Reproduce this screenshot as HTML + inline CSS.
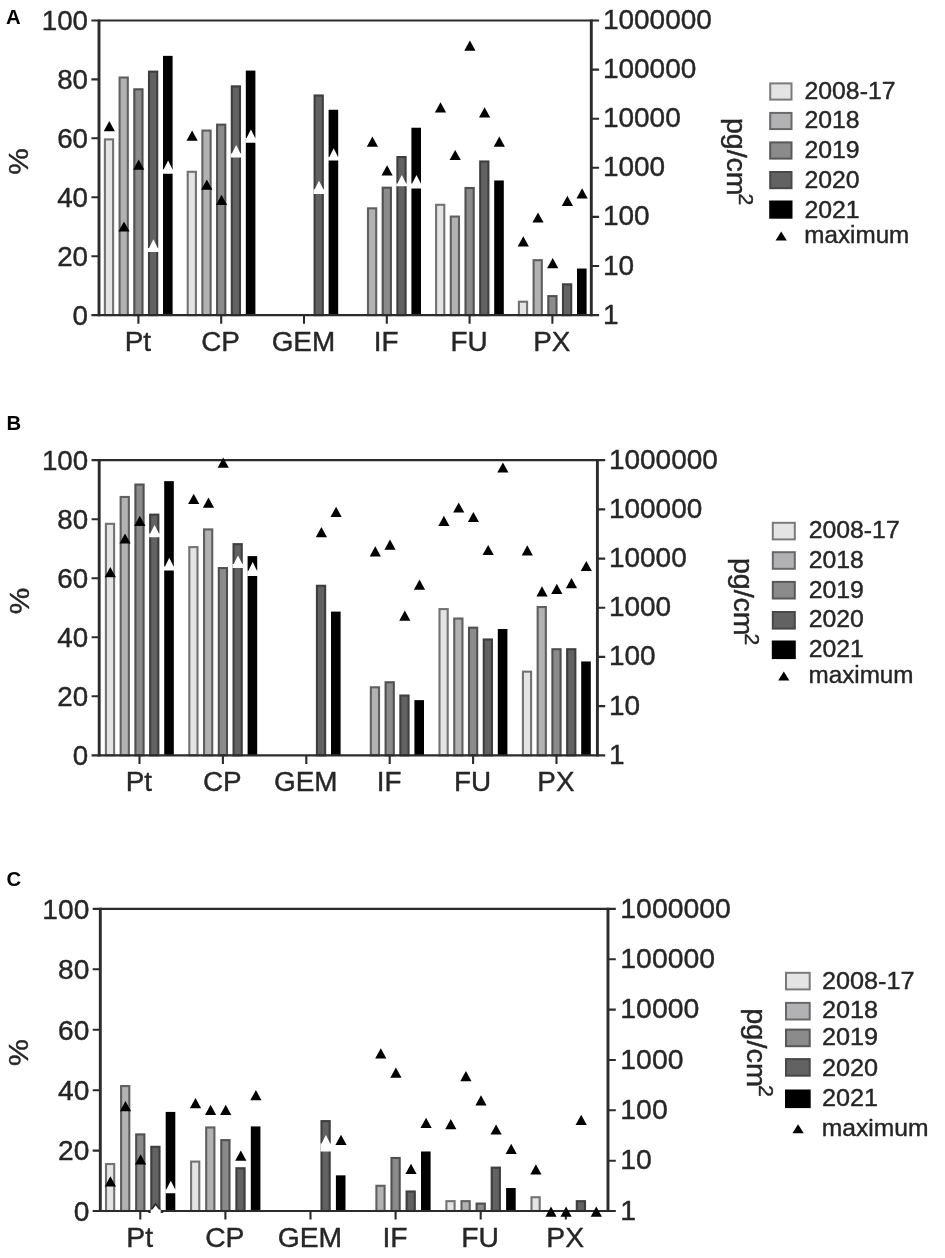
<!DOCTYPE html>
<html lang="en">
<head>
<meta charset="utf-8">
<title>Figure</title>
<style>
html,body{margin:0;padding:0;background:#fff;}
body{width:945px;height:1258px;overflow:hidden;}
svg{display:block;font-family:"Liberation Sans", Arial, sans-serif;fill:#262626;filter:blur(0.65px);}
text{stroke:#262626;stroke-width:0.4px;stroke-linejoin:round;}
text.pl{stroke:none;}
</style>
</head>
<body>
<svg width="945" height="1258" viewBox="0 0 945 1258">
<rect width="945" height="1258" fill="#fff"/>
<g class="panel" id="panelA">
<rect x="104.90" y="139.39" width="8.20" height="175.71" fill="#e4e4e4" stroke="#727272" stroke-width="2.1"/>
<rect x="119.60" y="77.52" width="8.20" height="237.58" fill="#b2b2b4" stroke="#606060" stroke-width="2.1"/>
<rect x="134.30" y="89.31" width="8.20" height="225.79" fill="#8b8b8b" stroke="#505050" stroke-width="2.1"/>
<rect x="149.00" y="71.63" width="8.20" height="243.47" fill="#626262" stroke="#3e3e3e" stroke-width="2.1"/>
<rect x="163.00" y="55.85" width="9.6" height="259.25" fill="#000"/>
<rect x="187.70" y="171.80" width="8.20" height="143.30" fill="#e4e4e4" stroke="#727272" stroke-width="2.1"/>
<rect x="202.40" y="130.55" width="8.20" height="184.55" fill="#b2b2b4" stroke="#606060" stroke-width="2.1"/>
<rect x="217.10" y="124.66" width="8.20" height="190.44" fill="#8b8b8b" stroke="#505050" stroke-width="2.1"/>
<rect x="231.80" y="86.36" width="8.20" height="228.74" fill="#626262" stroke="#3e3e3e" stroke-width="2.1"/>
<rect x="245.80" y="70.58" width="9.6" height="244.52" fill="#000"/>
<rect x="314.60" y="95.49" width="8.20" height="219.61" fill="#626262" stroke="#3e3e3e" stroke-width="2.1"/>
<rect x="328.60" y="109.76" width="9.6" height="205.34" fill="#000"/>
<rect x="368.00" y="208.33" width="8.20" height="106.77" fill="#b2b2b4" stroke="#606060" stroke-width="2.1"/>
<rect x="382.70" y="187.70" width="8.20" height="127.40" fill="#8b8b8b" stroke="#505050" stroke-width="2.1"/>
<rect x="397.40" y="157.07" width="8.20" height="158.03" fill="#626262" stroke="#3e3e3e" stroke-width="2.1"/>
<rect x="411.40" y="127.73" width="9.6" height="187.37" fill="#000"/>
<rect x="436.10" y="204.79" width="8.20" height="110.31" fill="#e4e4e4" stroke="#727272" stroke-width="2.1"/>
<rect x="450.80" y="216.58" width="8.20" height="98.52" fill="#b2b2b4" stroke="#606060" stroke-width="2.1"/>
<rect x="465.50" y="188.00" width="8.20" height="127.10" fill="#8b8b8b" stroke="#505050" stroke-width="2.1"/>
<rect x="480.20" y="161.49" width="8.20" height="153.62" fill="#626262" stroke="#3e3e3e" stroke-width="2.1"/>
<rect x="494.20" y="180.47" width="9.6" height="134.63" fill="#000"/>
<rect x="518.90" y="301.71" width="8.20" height="13.39" fill="#e4e4e4" stroke="#727272" stroke-width="2.1"/>
<rect x="533.60" y="260.18" width="8.20" height="54.92" fill="#b2b2b4" stroke="#606060" stroke-width="2.1"/>
<rect x="548.30" y="296.12" width="8.20" height="18.98" fill="#8b8b8b" stroke="#505050" stroke-width="2.1"/>
<rect x="563.00" y="284.33" width="8.20" height="30.77" fill="#626262" stroke="#3e3e3e" stroke-width="2.1"/>
<rect x="577.00" y="268.55" width="9.6" height="46.55" fill="#000"/>
<path d="M91.4 20.5H599.1M91.4 315.1H599.1" stroke="#2b2b2b" stroke-width="2.2" fill="none"/>
<path d="M99.0 19.4V316.2M591.3 19.4V316.2" stroke="#2b2b2b" stroke-width="2.9" fill="none"/>
<text transform="translate(88.0 324.7) scale(1.035 1)" font-size="26.8" text-anchor="end">0</text>
<text transform="translate(88.0 265.8) scale(1.035 1)" font-size="26.8" text-anchor="end">20</text>
<text transform="translate(88.0 206.9) scale(1.035 1)" font-size="26.8" text-anchor="end">40</text>
<text transform="translate(88.0 147.9) scale(1.035 1)" font-size="26.8" text-anchor="end">60</text>
<text transform="translate(88.0 89.0) scale(1.035 1)" font-size="26.8" text-anchor="end">80</text>
<text transform="translate(88.0 30.1) scale(1.035 1)" font-size="26.8" text-anchor="end">100</text>
<text transform="translate(602.9 323.6) scale(1.045 1)" font-size="26.8" text-anchor="start">1</text>
<text transform="translate(602.9 274.5) scale(1.045 1)" font-size="26.8" text-anchor="start">10</text>
<text transform="translate(602.9 225.4) scale(1.045 1)" font-size="26.8" text-anchor="start">100</text>
<text transform="translate(602.9 176.3) scale(1.045 1)" font-size="26.8" text-anchor="start">1000</text>
<text transform="translate(602.9 127.2) scale(1.045 1)" font-size="26.8" text-anchor="start">10000</text>
<text transform="translate(602.9 78.1) scale(1.045 1)" font-size="26.8" text-anchor="start">100000</text>
<text transform="translate(602.9 29.0) scale(1.045 1)" font-size="26.8" text-anchor="start">1000000</text>
<text transform="translate(137.8 350.6) scale(1.04 1)" font-size="26.8" text-anchor="middle">Pt</text>
<text transform="translate(220.6 350.6) scale(1.04 1)" font-size="26.8" text-anchor="middle">CP</text>
<text transform="translate(303.4 350.6) scale(1.04 1)" font-size="26.8" text-anchor="middle">GEM</text>
<text transform="translate(386.2 350.6) scale(1.04 1)" font-size="26.8" text-anchor="middle">IF</text>
<text transform="translate(469.0 350.6) scale(1.04 1)" font-size="26.8" text-anchor="middle">FU</text>
<text transform="translate(551.8 350.6) scale(1.04 1)" font-size="26.8" text-anchor="middle">PX</text>
<path d="M91.4 256.2H99.0M91.4 197.3H99.0M91.4 138.3H99.0M91.4 79.4H99.0M591.3 266.0H599.1M591.3 216.9H599.1M591.3 167.8H599.1M591.3 118.7H599.1M591.3 69.6H599.1M138.4 315.1V323.7M221.2 315.1V323.7M304.0 315.1V323.7M386.8 315.1V323.7M469.6 315.1V323.7M552.4 315.1V323.7" stroke="#2b2b2b" stroke-width="2.1" fill="none"/>
<path d="M109.3 121.0L114.9 131.2H103.7Z" fill="#000"/>
<path d="M124.0 221.4L129.6 231.6H118.4Z" fill="#000"/>
<path d="M138.7 159.5L144.3 169.7H133.1Z" fill="#000"/>
<path d="M153.4 239.3L157.7 247.9H158.8V252.0H148.0V247.9H149.1Z" fill="#fff"/>
<path d="M168.1 160.6L172.4 169.2H173.6V173.8H162.7V169.2H163.8Z" fill="#fff"/>
<path d="M192.1 130.6L197.7 140.8H186.5Z" fill="#000"/>
<path d="M206.8 179.5L212.4 189.7H201.2Z" fill="#000"/>
<path d="M221.5 194.8L227.1 205.0H215.9Z" fill="#000"/>
<path d="M236.2 145.0L240.5 153.6H241.6V157.6H230.8V153.6H231.9Z" fill="#fff"/>
<path d="M250.9 129.4L255.2 138.0H256.4V142.8H245.5V138.0H246.6Z" fill="#fff"/>
<path d="M319.0 180.7L323.3 189.3H324.4V193.9H313.6V189.3H314.7Z" fill="#fff"/>
<path d="M333.7 148.3L338.0 156.9H339.1V160.6H328.2V156.9H329.4Z" fill="#fff"/>
<path d="M372.4 136.6L378.0 146.8H366.8Z" fill="#000"/>
<path d="M387.1 165.2L392.7 175.4H381.5Z" fill="#000"/>
<path d="M401.8 175.0L406.1 183.6H407.2V186.3H396.3V183.6H397.5Z" fill="#fff"/>
<path d="M416.5 175.0L420.8 183.6H421.9V188.6H411.0V183.6H412.2Z" fill="#fff"/>
<path d="M440.5 102.3L446.1 112.5H434.9Z" fill="#000"/>
<path d="M455.2 149.9L460.8 160.1H449.6Z" fill="#000"/>
<path d="M469.9 40.6L475.5 50.8H464.3Z" fill="#000"/>
<path d="M484.6 107.2L490.2 117.4H479.0Z" fill="#000"/>
<path d="M499.3 136.6L504.9 146.8H493.7Z" fill="#000"/>
<path d="M523.3 236.2L528.9 246.4H517.7Z" fill="#000"/>
<path d="M538.0 212.4L543.6 222.6H532.4Z" fill="#000"/>
<path d="M552.7 258.1L558.3 268.3H547.1Z" fill="#000"/>
<path d="M567.4 195.8L573.0 206.0H561.8Z" fill="#000"/>
<path d="M582.1 188.2L587.7 198.4H576.5Z" fill="#000"/>
<text x="6" y="24.2" class="pl" font-size="20.3" font-weight="bold" fill="#000">A</text>
<text transform="translate(28.4 161.5) rotate(-90) scale(1.065 1)" font-size="28.0" text-anchor="middle">%</text>
<text transform="translate(727.2 117.9) rotate(90) scale(1.065 1)" font-size="26.8">pg/cm<tspan font-size="19.8" dx="-1.9" dy="-11.5">2</tspan></text>
<rect x="770.2" y="83.4" width="21.3" height="16.2" fill="#e4e4e4" stroke="#7a7a7a" stroke-width="2"/>
<text transform="translate(804.5 99.3) scale(1.065 1)" font-size="23.3" text-anchor="start">2008-17</text>
<rect x="770.2" y="112.9" width="21.3" height="16.2" fill="#b2b2b4" stroke="#686868" stroke-width="2"/>
<text transform="translate(804.5 128.4) scale(1.065 1)" font-size="23.3" text-anchor="start">2018</text>
<rect x="770.2" y="142.4" width="21.3" height="16.2" fill="#8b8b8b" stroke="#585858" stroke-width="2"/>
<text transform="translate(804.5 158.0) scale(1.065 1)" font-size="23.3" text-anchor="start">2019</text>
<rect x="770.2" y="172.0" width="21.3" height="16.2" fill="#626262" stroke="#484848" stroke-width="2"/>
<text transform="translate(804.5 187.7) scale(1.065 1)" font-size="23.3" text-anchor="start">2020</text>
<rect x="770.2" y="201.5" width="21.3" height="16.2" fill="#000000" stroke="#000000" stroke-width="2"/>
<text transform="translate(804.5 217.6) scale(1.065 1)" font-size="23.3" text-anchor="start">2021</text>
<text transform="translate(804.3 243.2) scale(1.04 1)" font-size="23.3" text-anchor="start">maximum</text>
<path d="M781.2 231.6L786.8 240.6H775.6Z" fill="#000"/>
</g>
<g class="panel" id="panelB">
<rect x="105.90" y="523.81" width="8.20" height="231.49" fill="#e4e4e4" stroke="#727272" stroke-width="2.1"/>
<rect x="120.65" y="496.96" width="8.20" height="258.34" fill="#b2b2b4" stroke="#606060" stroke-width="2.1"/>
<rect x="135.40" y="484.56" width="8.20" height="270.74" fill="#8b8b8b" stroke="#505050" stroke-width="2.1"/>
<rect x="150.15" y="514.66" width="8.20" height="240.64" fill="#626262" stroke="#3e3e3e" stroke-width="2.1"/>
<rect x="164.20" y="481.15" width="9.6" height="274.15" fill="#000"/>
<rect x="189.30" y="547.12" width="8.20" height="208.18" fill="#e4e4e4" stroke="#727272" stroke-width="2.1"/>
<rect x="204.05" y="529.42" width="8.20" height="225.88" fill="#b2b2b4" stroke="#606060" stroke-width="2.1"/>
<rect x="218.80" y="568.08" width="8.20" height="187.22" fill="#8b8b8b" stroke="#505050" stroke-width="2.1"/>
<rect x="233.55" y="544.17" width="8.20" height="211.13" fill="#626262" stroke="#3e3e3e" stroke-width="2.1"/>
<rect x="247.60" y="556.11" width="9.6" height="199.19" fill="#000"/>
<rect x="316.95" y="585.78" width="8.20" height="169.52" fill="#626262" stroke="#3e3e3e" stroke-width="2.1"/>
<rect x="331.00" y="611.59" width="9.6" height="143.71" fill="#000"/>
<rect x="370.85" y="687.30" width="8.20" height="68.00" fill="#b2b2b4" stroke="#606060" stroke-width="2.1"/>
<rect x="385.60" y="682.28" width="8.20" height="73.02" fill="#8b8b8b" stroke="#505050" stroke-width="2.1"/>
<rect x="400.35" y="695.56" width="8.20" height="59.74" fill="#626262" stroke="#3e3e3e" stroke-width="2.1"/>
<rect x="414.40" y="700.12" width="9.6" height="55.18" fill="#000"/>
<rect x="439.50" y="609.10" width="8.20" height="146.20" fill="#e4e4e4" stroke="#727272" stroke-width="2.1"/>
<rect x="454.25" y="618.54" width="8.20" height="136.76" fill="#b2b2b4" stroke="#606060" stroke-width="2.1"/>
<rect x="469.00" y="627.69" width="8.20" height="127.61" fill="#8b8b8b" stroke="#505050" stroke-width="2.1"/>
<rect x="483.75" y="639.49" width="8.20" height="115.81" fill="#626262" stroke="#3e3e3e" stroke-width="2.1"/>
<rect x="497.80" y="629.00" width="9.6" height="126.30" fill="#000"/>
<rect x="522.90" y="671.66" width="8.20" height="83.64" fill="#e4e4e4" stroke="#727272" stroke-width="2.1"/>
<rect x="537.65" y="607.03" width="8.20" height="148.27" fill="#b2b2b4" stroke="#606060" stroke-width="2.1"/>
<rect x="552.40" y="649.23" width="8.20" height="106.07" fill="#8b8b8b" stroke="#505050" stroke-width="2.1"/>
<rect x="567.15" y="649.23" width="8.20" height="106.07" fill="#626262" stroke="#3e3e3e" stroke-width="2.1"/>
<rect x="581.20" y="661.46" width="9.6" height="93.84" fill="#000"/>
<path d="M91.6 460.2H605.2M91.6 755.3H605.2" stroke="#2b2b2b" stroke-width="2.2" fill="none"/>
<path d="M99.2 459.1V756.4M597.4 459.1V756.4" stroke="#2b2b2b" stroke-width="2.9" fill="none"/>
<text transform="translate(88.2 764.9) scale(1.035 1)" font-size="26.8" text-anchor="end">0</text>
<text transform="translate(88.2 705.9) scale(1.035 1)" font-size="26.8" text-anchor="end">20</text>
<text transform="translate(88.2 646.9) scale(1.035 1)" font-size="26.8" text-anchor="end">40</text>
<text transform="translate(88.2 587.8) scale(1.035 1)" font-size="26.8" text-anchor="end">60</text>
<text transform="translate(88.2 528.8) scale(1.035 1)" font-size="26.8" text-anchor="end">80</text>
<text transform="translate(88.2 469.8) scale(1.035 1)" font-size="26.8" text-anchor="end">100</text>
<text transform="translate(608.9 763.8) scale(1.045 1)" font-size="26.8" text-anchor="start">1</text>
<text transform="translate(608.9 714.6) scale(1.045 1)" font-size="26.8" text-anchor="start">10</text>
<text transform="translate(608.9 665.4) scale(1.045 1)" font-size="26.8" text-anchor="start">100</text>
<text transform="translate(608.9 616.2) scale(1.045 1)" font-size="26.8" text-anchor="start">1000</text>
<text transform="translate(608.9 567.1) scale(1.045 1)" font-size="26.8" text-anchor="start">10000</text>
<text transform="translate(608.9 517.9) scale(1.045 1)" font-size="26.8" text-anchor="start">100000</text>
<text transform="translate(608.9 468.7) scale(1.045 1)" font-size="26.8" text-anchor="start">1000000</text>
<text transform="translate(138.9 790.8) scale(1.04 1)" font-size="26.8" text-anchor="middle">Pt</text>
<text transform="translate(222.3 790.8) scale(1.04 1)" font-size="26.8" text-anchor="middle">CP</text>
<text transform="translate(305.7 790.8) scale(1.04 1)" font-size="26.8" text-anchor="middle">GEM</text>
<text transform="translate(389.1 790.8) scale(1.04 1)" font-size="26.8" text-anchor="middle">IF</text>
<text transform="translate(472.5 790.8) scale(1.04 1)" font-size="26.8" text-anchor="middle">FU</text>
<text transform="translate(555.9 790.8) scale(1.04 1)" font-size="26.8" text-anchor="middle">PX</text>
<path d="M91.6 696.3H99.2M91.6 637.3H99.2M91.6 578.2H99.2M91.6 519.2H99.2M597.4 706.1H605.2M597.4 656.9H605.2M597.4 607.8H605.2M597.4 558.6H605.2M597.4 509.4H605.2M139.5 755.3V763.9M222.9 755.3V763.9M306.3 755.3V763.9M389.7 755.3V763.9M473.1 755.3V763.9M556.5 755.3V763.9" stroke="#2b2b2b" stroke-width="2.1" fill="none"/>
<path d="M110.3 567.1L115.9 577.3H104.7Z" fill="#000"/>
<path d="M125.0 533.4L130.7 543.6H119.5Z" fill="#000"/>
<path d="M139.8 515.7L145.4 525.9H134.2Z" fill="#000"/>
<path d="M154.6 525.0L158.9 533.6H160.0V537.2H149.1V533.6H150.2Z" fill="#fff"/>
<path d="M169.3 557.8L173.6 566.4H174.8V570.4H163.9V566.4H165.0Z" fill="#fff"/>
<path d="M193.7 493.8L199.3 504.0H188.1Z" fill="#000"/>
<path d="M208.5 497.6L214.1 507.8H202.9Z" fill="#000"/>
<path d="M223.2 457.6L228.8 467.8H217.6Z" fill="#000"/>
<path d="M238.0 555.5L242.3 564.1H243.4V568.1H232.5V564.1H233.7Z" fill="#fff"/>
<path d="M252.7 562.1L257.0 570.7H258.2V576.1H247.3V570.7H248.4Z" fill="#fff"/>
<path d="M321.4 527.1L327.0 537.3H315.8Z" fill="#000"/>
<path d="M336.1 506.8L341.7 517.0H330.5Z" fill="#000"/>
<path d="M375.3 546.2L380.9 556.4H369.7Z" fill="#000"/>
<path d="M390.0 539.5L395.6 549.7H384.4Z" fill="#000"/>
<path d="M404.8 610.5L410.4 620.7H399.2Z" fill="#000"/>
<path d="M419.5 579.5L425.1 589.7H413.9Z" fill="#000"/>
<path d="M443.9 515.7L449.5 525.9H438.3Z" fill="#000"/>
<path d="M458.7 502.4L464.3 512.6H453.1Z" fill="#000"/>
<path d="M473.4 511.9L479.0 522.1H467.8Z" fill="#000"/>
<path d="M488.2 544.9L493.8 555.1H482.6Z" fill="#000"/>
<path d="M502.9 462.4L508.5 472.6H497.3Z" fill="#000"/>
<path d="M527.3 545.2L532.9 555.4H521.7Z" fill="#000"/>
<path d="M542.0 586.2L547.6 596.4H536.4Z" fill="#000"/>
<path d="M556.8 583.7L562.4 593.9H551.2Z" fill="#000"/>
<path d="M571.5 578.0L577.1 588.2H565.9Z" fill="#000"/>
<path d="M586.3 560.9L591.9 571.1H580.7Z" fill="#000"/>
<text x="6.5" y="430" class="pl" font-size="20.3" font-weight="bold" fill="#000">B</text>
<text transform="translate(29.0 601.0) rotate(-90) scale(1.065 1)" font-size="28.0" text-anchor="middle">%</text>
<text transform="translate(733.6 557.9) rotate(90) scale(1.065 1)" font-size="26.8">pg/cm<tspan font-size="19.8" dx="-1.9" dy="-11.5">2</tspan></text>
<rect x="772.8" y="522.8" width="22.0" height="16.6" fill="#e4e4e4" stroke="#7a7a7a" stroke-width="2"/>
<text transform="translate(808.7 538.2) scale(1.065 1)" font-size="23.3" text-anchor="start">2008-17</text>
<rect x="772.8" y="552.2" width="22.0" height="16.6" fill="#b2b2b4" stroke="#686868" stroke-width="2"/>
<text transform="translate(808.7 567.5) scale(1.065 1)" font-size="23.3" text-anchor="start">2018</text>
<rect x="772.8" y="581.9" width="22.0" height="16.6" fill="#8b8b8b" stroke="#585858" stroke-width="2"/>
<text transform="translate(808.7 597.6) scale(1.065 1)" font-size="23.3" text-anchor="start">2019</text>
<rect x="772.8" y="612.0" width="22.0" height="16.6" fill="#626262" stroke="#484848" stroke-width="2"/>
<text transform="translate(808.7 627.1) scale(1.065 1)" font-size="23.3" text-anchor="start">2020</text>
<rect x="772.8" y="641.5" width="22.0" height="16.6" fill="#000000" stroke="#000000" stroke-width="2"/>
<text transform="translate(808.7 657.4) scale(1.065 1)" font-size="23.3" text-anchor="start">2021</text>
<text transform="translate(808.5 683.2) scale(1.04 1)" font-size="23.3" text-anchor="start">maximum</text>
<path d="M783.8 671.6L789.4 680.6H778.2Z" fill="#000"/>
</g>
<g class="panel" id="panelC">
<rect x="106.00" y="1164.02" width="8.20" height="46.98" fill="#e4e4e4" stroke="#727272" stroke-width="2.1"/>
<rect x="121.10" y="1086.07" width="8.20" height="124.93" fill="#b2b2b4" stroke="#606060" stroke-width="2.1"/>
<rect x="136.20" y="1134.41" width="8.20" height="76.59" fill="#8b8b8b" stroke="#505050" stroke-width="2.1"/>
<rect x="151.30" y="1146.80" width="8.20" height="64.20" fill="#626262" stroke="#3e3e3e" stroke-width="2.1"/>
<rect x="165.70" y="1111.91" width="9.6" height="99.09" fill="#000"/>
<rect x="191.10" y="1161.60" width="8.20" height="49.40" fill="#e4e4e4" stroke="#727272" stroke-width="2.1"/>
<rect x="206.20" y="1127.46" width="8.20" height="83.54" fill="#b2b2b4" stroke="#606060" stroke-width="2.1"/>
<rect x="221.30" y="1140.15" width="8.20" height="70.85" fill="#8b8b8b" stroke="#505050" stroke-width="2.1"/>
<rect x="236.40" y="1168.25" width="8.20" height="42.75" fill="#626262" stroke="#3e3e3e" stroke-width="2.1"/>
<rect x="250.80" y="1126.41" width="9.6" height="84.59" fill="#000"/>
<rect x="321.50" y="1121.12" width="8.20" height="89.88" fill="#626262" stroke="#3e3e3e" stroke-width="2.1"/>
<rect x="335.90" y="1175.35" width="9.6" height="35.65" fill="#000"/>
<rect x="376.40" y="1185.77" width="8.20" height="25.23" fill="#b2b2b4" stroke="#606060" stroke-width="2.1"/>
<rect x="391.50" y="1157.97" width="8.20" height="53.03" fill="#8b8b8b" stroke="#505050" stroke-width="2.1"/>
<rect x="406.60" y="1191.51" width="8.20" height="19.49" fill="#626262" stroke="#3e3e3e" stroke-width="2.1"/>
<rect x="421.00" y="1151.49" width="9.6" height="59.51" fill="#000"/>
<rect x="446.40" y="1201.17" width="8.20" height="9.83" fill="#e4e4e4" stroke="#727272" stroke-width="2.1"/>
<rect x="461.50" y="1201.17" width="8.20" height="9.83" fill="#b2b2b4" stroke="#606060" stroke-width="2.1"/>
<rect x="476.60" y="1203.59" width="8.20" height="7.41" fill="#8b8b8b" stroke="#505050" stroke-width="2.1"/>
<rect x="491.70" y="1167.64" width="8.20" height="43.36" fill="#626262" stroke="#3e3e3e" stroke-width="2.1"/>
<rect x="506.10" y="1188.04" width="9.6" height="22.96" fill="#000"/>
<rect x="531.50" y="1197.25" width="8.20" height="13.75" fill="#e4e4e4" stroke="#727272" stroke-width="2.1"/>
<rect x="576.80" y="1201.17" width="8.20" height="9.83" fill="#626262" stroke="#3e3e3e" stroke-width="2.1"/>
<path d="M92.7 908.9H615.8M92.7 1211.0H615.8" stroke="#2b2b2b" stroke-width="2.2" fill="none"/>
<path d="M100.3 907.8V1212.1M608.0 907.8V1212.1" stroke="#2b2b2b" stroke-width="2.9" fill="none"/>
<text transform="translate(89.3 1220.7) scale(1.035 1)" font-size="27.2" text-anchor="end">0</text>
<text transform="translate(89.3 1160.3) scale(1.035 1)" font-size="27.2" text-anchor="end">20</text>
<text transform="translate(89.3 1099.9) scale(1.035 1)" font-size="27.2" text-anchor="end">40</text>
<text transform="translate(89.3 1039.5) scale(1.035 1)" font-size="27.2" text-anchor="end">60</text>
<text transform="translate(89.3 979.1) scale(1.035 1)" font-size="27.2" text-anchor="end">80</text>
<text transform="translate(89.3 918.6) scale(1.035 1)" font-size="27.2" text-anchor="end">100</text>
<text transform="translate(620.3 1219.6) scale(1.045 1)" font-size="27.2" text-anchor="start">1</text>
<text transform="translate(620.3 1169.3) scale(1.045 1)" font-size="27.2" text-anchor="start">10</text>
<text transform="translate(620.3 1118.9) scale(1.045 1)" font-size="27.2" text-anchor="start">100</text>
<text transform="translate(620.3 1068.6) scale(1.045 1)" font-size="27.2" text-anchor="start">1000</text>
<text transform="translate(620.3 1018.2) scale(1.045 1)" font-size="27.2" text-anchor="start">10000</text>
<text transform="translate(620.3 967.9) scale(1.045 1)" font-size="27.2" text-anchor="start">100000</text>
<text transform="translate(620.3 917.5) scale(1.045 1)" font-size="27.2" text-anchor="start">1000000</text>
<text transform="translate(139.7 1247.3) scale(1.04 1)" font-size="27.2" text-anchor="middle">Pt</text>
<text transform="translate(224.8 1247.3) scale(1.04 1)" font-size="27.2" text-anchor="middle">CP</text>
<text transform="translate(309.9 1247.3) scale(1.04 1)" font-size="27.2" text-anchor="middle">GEM</text>
<text transform="translate(395.0 1247.3) scale(1.04 1)" font-size="27.2" text-anchor="middle">IF</text>
<text transform="translate(480.1 1247.3) scale(1.04 1)" font-size="27.2" text-anchor="middle">FU</text>
<text transform="translate(565.2 1247.3) scale(1.04 1)" font-size="27.2" text-anchor="middle">PX</text>
<path d="M92.7 1150.6H100.3M92.7 1090.2H100.3M92.7 1029.7H100.3M92.7 969.3H100.3M608.0 1160.7H615.8M608.0 1110.3H615.8M608.0 1060.0H615.8M608.0 1009.6H615.8M608.0 959.2H615.8M140.3 1211.0V1219.6M225.4 1211.0V1219.6M310.5 1211.0V1219.6M395.6 1211.0V1219.6M480.7 1211.0V1219.6M565.8 1211.0V1219.6" stroke="#2b2b2b" stroke-width="2.1" fill="none"/>
<path d="M110.4 1176.2L116.0 1186.4H104.8Z" fill="#000"/>
<path d="M125.5 1101.0L131.1 1111.2H119.9Z" fill="#000"/>
<path d="M140.6 1154.3L146.2 1164.5H135.0Z" fill="#000"/>
<path d="M149.5 1212.2L155.7 1203.9L161.9 1212.2Z" fill="#fff" stroke="#2b2b2b" stroke-width="1.6" stroke-linejoin="miter"/>
<rect x="150.7" y="1209.6" width="10.0" height="3.4" fill="#fff"/>
<path d="M170.8 1180.7L175.1 1189.3H176.2V1193.3H165.4V1189.3H166.5Z" fill="#fff"/>
<path d="M195.5 1098.1L201.1 1108.3H189.9Z" fill="#000"/>
<path d="M210.6 1104.8L216.2 1115.0H205.0Z" fill="#000"/>
<path d="M225.7 1104.8L231.3 1115.0H220.1Z" fill="#000"/>
<path d="M240.8 1150.5L246.4 1160.7H235.2Z" fill="#000"/>
<path d="M255.9 1090.1L261.5 1100.3H250.3Z" fill="#000"/>
<path d="M325.9 1135.0L330.2 1143.6H331.4V1151.4H320.5V1143.6H321.6Z" fill="#fff"/>
<path d="M341.0 1134.7L346.6 1144.9H335.4Z" fill="#000"/>
<path d="M380.8 1048.2L386.4 1058.4H375.2Z" fill="#000"/>
<path d="M395.9 1067.6L401.5 1077.8H390.3Z" fill="#000"/>
<path d="M411.0 1163.8L416.6 1174.0H405.4Z" fill="#000"/>
<path d="M426.1 1117.7L431.7 1127.9H420.5Z" fill="#000"/>
<path d="M450.8 1119.0L456.4 1129.2H445.2Z" fill="#000"/>
<path d="M465.9 1071.0L471.5 1081.2H460.3Z" fill="#000"/>
<path d="M481.0 1095.2L486.6 1105.4H475.4Z" fill="#000"/>
<path d="M496.1 1124.4L501.7 1134.6H490.5Z" fill="#000"/>
<path d="M511.2 1143.8L516.8 1154.0H505.6Z" fill="#000"/>
<path d="M535.9 1164.2L541.5 1174.4H530.3Z" fill="#000"/>
<path d="M551.0 1206.5L556.6 1216.7H545.4Z" fill="#000"/>
<path d="M566.1 1206.5L571.7 1216.7H560.5Z" fill="#000"/>
<path d="M581.2 1114.7L586.8 1124.9H575.6Z" fill="#000"/>
<path d="M596.3 1206.5L601.9 1216.7H590.7Z" fill="#000"/>
<text x="6.5" y="885.6" class="pl" font-size="20.3" font-weight="bold" fill="#000">C</text>
<text transform="translate(28.3 1052.5) rotate(-90) scale(1.065 1)" font-size="28.4" text-anchor="middle">%</text>
<text transform="translate(747.2 1008.2) rotate(90) scale(1.065 1)" font-size="27.2">pg/cm<tspan font-size="20.1" dx="-1.9" dy="-11.7">2</tspan></text>
<rect x="786.0" y="972.8" width="23.7" height="16.6" fill="#e4e4e4" stroke="#7a7a7a" stroke-width="2"/>
<text transform="translate(821.9 988.6) scale(1.065 1)" font-size="23.7" text-anchor="start">2008-17</text>
<rect x="786.0" y="1002.9" width="23.7" height="16.6" fill="#b2b2b4" stroke="#686868" stroke-width="2"/>
<text transform="translate(821.9 1018.1) scale(1.065 1)" font-size="23.7" text-anchor="start">2018</text>
<rect x="786.0" y="1029.6" width="23.7" height="16.6" fill="#8b8b8b" stroke="#585858" stroke-width="2"/>
<text transform="translate(821.9 1045.3) scale(1.065 1)" font-size="23.7" text-anchor="start">2019</text>
<rect x="786.0" y="1059.1" width="23.7" height="16.6" fill="#626262" stroke="#484848" stroke-width="2"/>
<text transform="translate(821.9 1075.8) scale(1.065 1)" font-size="23.7" text-anchor="start">2020</text>
<rect x="786.0" y="1090.5" width="23.7" height="16.6" fill="#000000" stroke="#000000" stroke-width="2"/>
<text transform="translate(821.9 1105.7) scale(1.065 1)" font-size="23.7" text-anchor="start">2021</text>
<text transform="translate(821.7 1135.7) scale(1.04 1)" font-size="23.7" text-anchor="start">maximum</text>
<path d="M798.1 1124.3L803.7 1133.3H792.5Z" fill="#000"/>
</g>
</svg>
</body>
</html>
